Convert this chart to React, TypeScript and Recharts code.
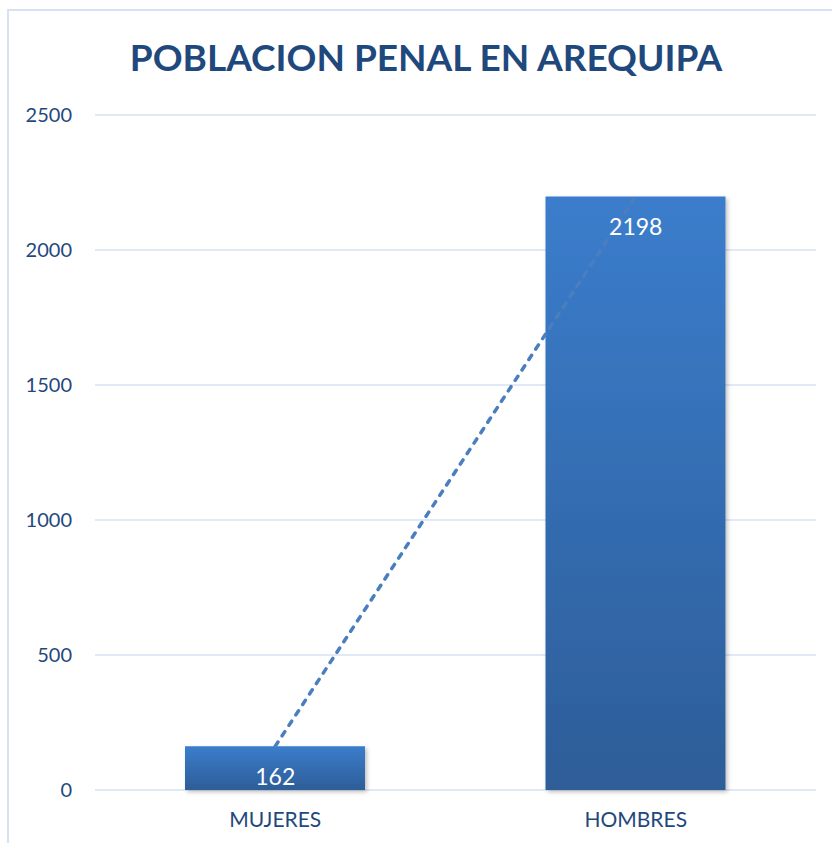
import React from 'react';
import {
  ComposedChart,
  Bar,
  Line,
  XAxis,
  YAxis,
  CartesianGrid,
  LabelList
} from 'recharts';

const categories = ['MUJERES', 'HOMBRES'];
const poblacion = [162, 2198];
const yTicks = [0, 500, 1000, 1500, 2000, 2500];

const chartData = categories.map((name, i) => ({ name, value: poblacion[i] }));

const FONT = 'Lato, "Open Sans", sans-serif';
const TEXT_BLUE = '#1F497D';

// white value label placed just under the top of each bar
const ValueLabel = (props: any) => {
  const { x, y, value } = props;
  return (
    <text
      x={x}
      y={y + 20}
      dy="0.8em"
      textAnchor="middle"
      fill="#ffffff"
      fontFamily={FONT}
      fontSize={23}
    >
      {value}
    </text>
  );
};

export default function App() {
  return (
    <div style={{ position: 'absolute', left: 0, top: 0, width: 832, height: 843, background: '#fff', overflow: 'hidden' }}>
      {/* chart frame, only left and top edges visible */}
      <div
        style={{
          position: 'absolute',
          left: 7,
          top: 9,
          width: 900,
          height: 900,
          borderLeft: '2px solid #D6E2F2',
          borderTop: '2px solid #D6E2F2'
        }}
      />
      <div
        style={{
          position: 'absolute',
          left: 0,
          top: 32,
          width: 852,
          textAlign: 'center',
          fontFamily: FONT,
          fontWeight: 700,
          fontSize: 37,
          color: TEXT_BLUE,
          lineHeight: '50px'
        }}
      >
        POBLACION PENAL EN AREQUIPA
      </div>
      <div style={{ position: 'absolute', left: 0, top: 0 }}>
        <ComposedChart
          width={832}
          height={843}
          data={chartData}
          margin={{ top: 115, right: 16, left: 15, bottom: 0 }}
        >
          <defs>
            <linearGradient id="barFill" x1="0" y1="0" x2="0" y2="1">
              <stop offset="0%" stopColor="#3B7DCC" />
              <stop offset="100%" stopColor="#2D5D98" />
            </linearGradient>
            <filter id="barShadow" x="-10%" y="-10%" width="130%" height="130%">
              <feDropShadow dx="2" dy="2" stdDeviation="2" floodColor="#000" floodOpacity="0.25" />
            </filter>
          </defs>
          <CartesianGrid vertical={false} stroke="#D6E2F2" strokeWidth={1.5} />
          <XAxis
            dataKey="name"
            axisLine={false}
            tickLine={false}
            tickSize={0}
            tickMargin={22}
            height={53}
            tick={{ fill: TEXT_BLUE, fontFamily: FONT, fontSize: 21 }}
          />
          <YAxis
            domain={[0, 2500]}
            ticks={yTicks}
            axisLine={false}
            tickLine={false}
            tickSize={0}
            tickMargin={23}
            width={80}
            tick={{ fill: TEXT_BLUE, fontFamily: FONT, fontSize: 20 }}
          />
          <Bar
            dataKey="value"
            barSize={180}
            fill="url(#barFill)"
            filter="url(#barShadow)"
            isAnimationActive={false}
          />
          <Line
            dataKey="value"
            type="linear"
            stroke="#4A7EBF"
            strokeWidth={3.5}
            strokeLinecap="round"
            strokeDasharray="5 7.5"
            dot={false}
            activeDot={false}
            isAnimationActive={false}
          >
            <LabelList dataKey="value" content={<ValueLabel />} />
          </Line>
        </ComposedChart>
      </div>
    </div>
  );
}
